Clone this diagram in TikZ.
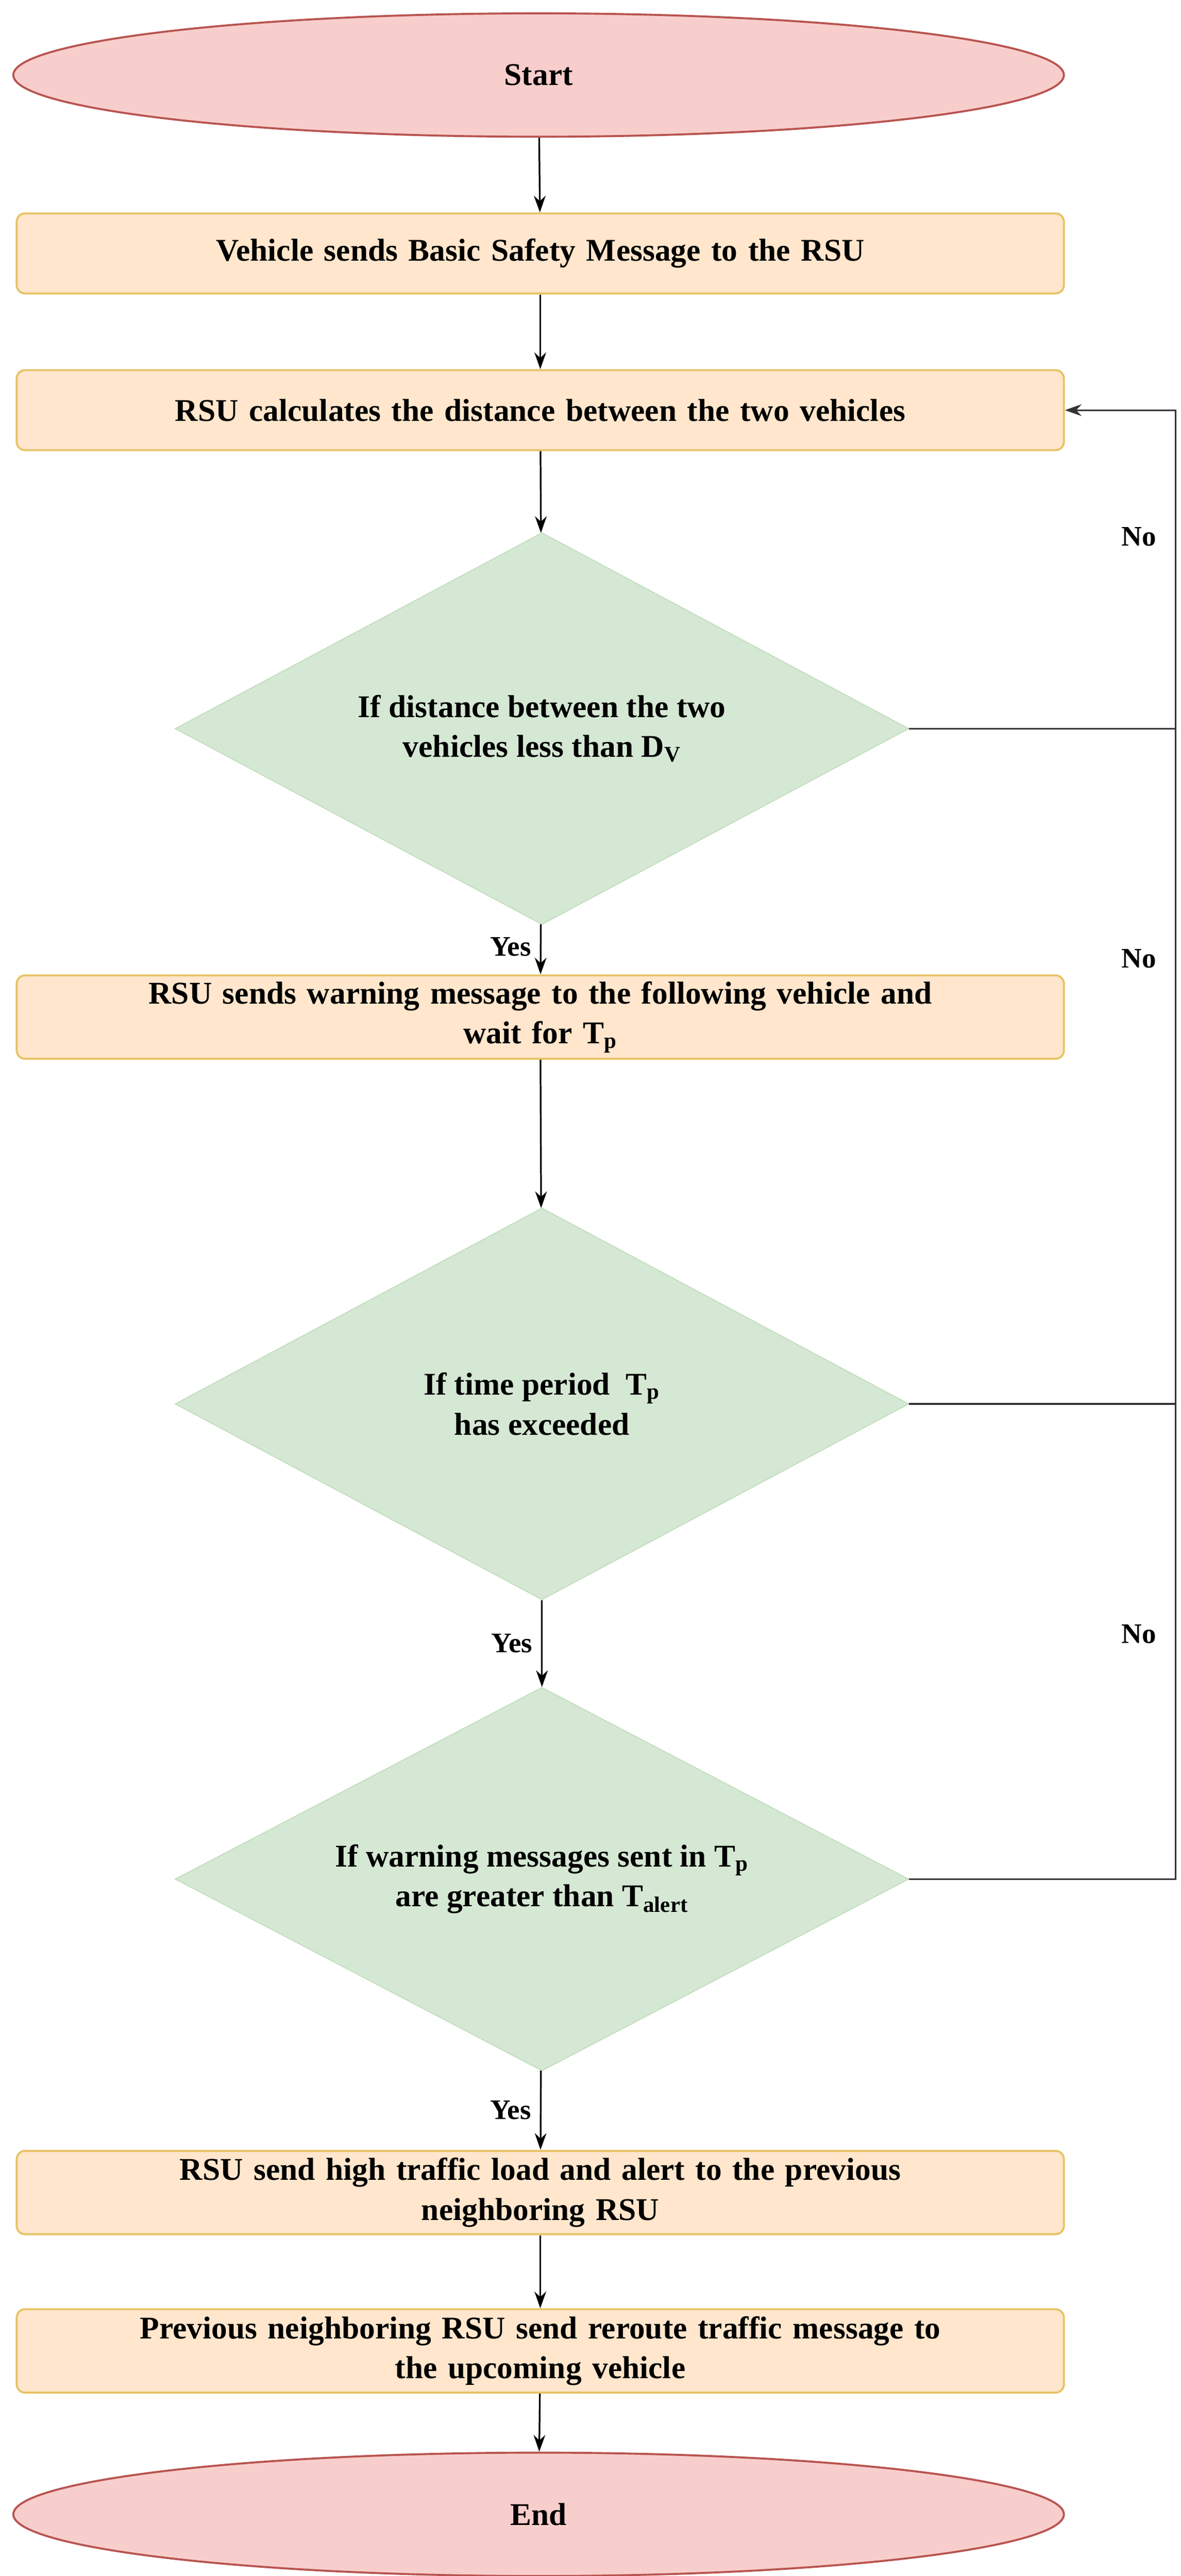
\documentclass[tikz,border=0pt]{standalone}
\usepackage{fontspec}
\setmainfont{Liberation Serif}
\usetikzlibrary{shapes.geometric,arrows.meta}
\definecolor{ef}{HTML}{F8CECC}\definecolor{ed}{HTML}{B85450}
\definecolor{bf}{HTML}{FFE6CC}\definecolor{bd}{HTML}{D79B00}
\definecolor{df}{HTML}{D5E8D4}\definecolor{dd}{HTML}{B7D7B0}
\begin{document}
\begin{tikzpicture}[x=1pt,y=-1pt,font=\fontsize{19}{24}\selectfont\bfseries,
 term/.style={ellipse,draw=ed,fill=ef,line width=1.2pt,minimum width=630pt,minimum height=74pt},
 box/.style={rectangle,rounded corners=5pt,draw=bd!60,fill=bf,line width=1.2pt,minimum width=628pt,minimum height=48pt,align=center,text width=620pt},
 dec/.style={diamond,aspect=1.87,draw=dd,fill=df,minimum width=440pt,minimum height=235pt,inner sep=0pt,align=center},
 arr/.style={-{Stealth[length=10pt,width=7pt]},line width=1pt},
 ln/.style={line width=1pt,draw=black!80},
 lab/.style={font=\fontsize{17}{20}\selectfont\bfseries}]
\useasboundingbox (0,0) rectangle (708,1545);
\node[term] (s) at (323,45) {Start};
\node[box] (b1) at (324,152) {Vehicle sends Basic Safety Message to the RSU};
\node[box] (b2) at (324,246) {RSU calculates the distance between the two vehicles};
\node[dec] (d1) at (325,437) {If distance between the two\\vehicles less than $\mathbf{D_V}$};
\node[box,minimum height=50pt] (b3) at (324,610) {RSU sends warning message to the following vehicle and\\wait for $\mathbf{T_p}$};
\node[dec] (d2) at (325,842) {If time period \ $\mathbf{T_p}$\\has exceeded};
\node[dec,minimum height=230pt] (d3) at (325,1127) {If warning messages sent in $\mathbf{T_p}$\\are greater than $\mathbf{T_{alert}}$};
\node[box,minimum height=50pt] (b4) at (324,1315) {RSU send high traffic load and alert to the previous\\neighboring RSU};
\node[box,minimum height=50pt] (b5) at (324,1410) {Previous neighboring RSU send reroute traffic message to\\the upcoming vehicle};
\node[term,minimum height=74pt] (e) at (323,1508) {End};
\coordinate (c1) at (705,437);\coordinate (c2) at (705,842);\coordinate (c3) at (705,1127);\coordinate (c0) at (705,246);
\draw[arr] (s) -- (b1);
\draw[arr] (b1) -- (b2);
\draw[arr] (b2) -- (d1);
\draw[arr] (d1) -- node[lab,pos=0.45,left=2pt]{Yes} (b3);
\draw[arr] (b3) -- (d2);
\draw[arr] (d2) -- node[lab,pos=0.5,left=2pt]{Yes} (d3);
\draw[arr] (d3) -- node[lab,pos=0.5,left=2pt]{Yes} (b4);
\draw[arr] (b4) -- (b5);
\draw[arr] (b5) -- (e);
\draw[ln] (d1.east) -- (c1);
\draw[ln] (d2.east) -- (c2);
\draw[ln,arr] (d3.east) -- (c3) -- (c0) -- (b2.east);
\node[lab] (n1) at (683,322) {No};
\node[lab] (n2) at (683,575) {No};
\node[lab] (n3) at (683,980) {No};
\end{tikzpicture}
\end{document}
